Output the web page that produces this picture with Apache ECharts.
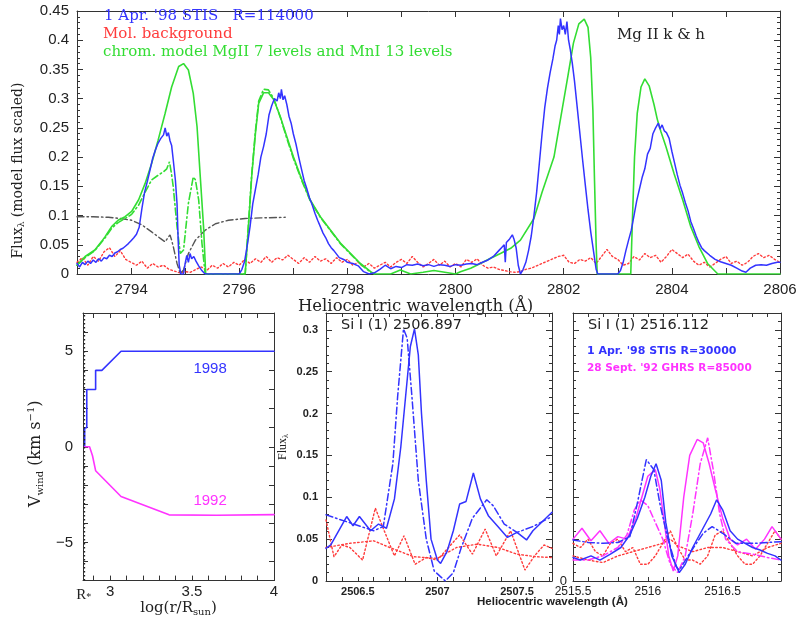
<!DOCTYPE html>
<html><head><meta charset="utf-8">
<script src="https://cdn.jsdelivr.net/npm/echarts@6/dist/echarts.min.js"></script>
<style>html,body{margin:0;padding:0;background:#fff}#c{width:801px;height:618px}</style>
</head><body><div id="c"></div>
<script>
// ---------- Top panel: Mg II k & h ----------
const mgObs = [[2793.00,0.018],[2793.05,0.012],[2793.10,0.02],[2793.15,0.016],[2793.20,0.022],[2793.25,0.018],[2793.30,0.024],[2793.35,0.02],[2793.40,0.026],[2793.45,0.022],[2793.50,0.028],[2793.55,0.026],[2793.60,0.032],[2793.65,0.03],[2793.70,0.036],[2793.75,0.038],[2793.80,0.042],[2793.85,0.044],[2793.90,0.048],[2793.95,0.052],[2794.00,0.057],[2794.05,0.062],[2794.10,0.068],[2794.15,0.08],[2794.20,0.112],[2794.25,0.14],[2794.30,0.158],[2794.35,0.178],[2794.40,0.198],[2794.45,0.212],[2794.50,0.224],[2794.55,0.232],[2794.60,0.238],[2794.63,0.25],[2794.66,0.236],[2794.69,0.242],[2794.72,0.228],[2794.75,0.22],[2794.78,0.195],[2794.82,0.16],[2794.85,0.12],[2794.87,0.06],[2794.89,0.015],[2794.92,0.0],[2794.97,0.0],[2795.00,0.018],[2795.03,0.032],[2795.06,0.02],[2795.09,0.035],[2795.12,0.026],[2795.16,0.03],[2795.20,0.022],[2795.25,0.014],[2795.30,0.007],[2795.36,0.001],[2795.40,0],[2796.00,0],[2796.05,0.008],[2796.10,0.022],[2796.15,0.05],[2796.20,0.081],[2796.25,0.12],[2796.30,0.145],[2796.35,0.17],[2796.40,0.2],[2796.45,0.218],[2796.50,0.24],[2796.55,0.272],[2796.60,0.288],[2796.65,0.3],[2796.70,0.296],[2796.73,0.31],[2796.76,0.3],[2796.78,0.316],[2796.81,0.298],[2796.84,0.305],[2796.88,0.29],[2796.92,0.27],[2796.96,0.258],[2797.00,0.24],[2797.05,0.222],[2797.10,0.2],[2797.15,0.18],[2797.20,0.16],[2797.25,0.146],[2797.30,0.13],[2797.35,0.118],[2797.40,0.104],[2797.45,0.092],[2797.50,0.081],[2797.55,0.07],[2797.60,0.062],[2797.65,0.052],[2797.70,0.045],[2797.75,0.04],[2797.80,0.034],[2797.85,0.028],[2797.90,0.026],[2797.95,0.024],[2798.00,0.02],[2798.10,0.018],[2798.20,0.014],[2798.30,0.004],[2798.40,0.0],[2798.50,0.002],[2798.60,0.008],[2798.70,0.015],[2798.80,0.009],[2798.90,0.013],[2799.00,0.011],[2799.10,0.016],[2799.20,0.015],[2799.30,0.017],[2799.40,0.014],[2799.50,0.016],[2799.60,0.013],[2799.70,0.016],[2799.80,0.015],[2799.90,0.013],[2800.00,0.016],[2800.10,0.015],[2800.20,0.017],[2800.30,0.018],[2800.40,0.016],[2800.50,0.02],[2800.60,0.024],[2800.70,0.03],[2800.80,0.04],[2800.85,0.045],[2800.90,0.05],[2800.92,0.02],[2800.94,0.054],[2801.00,0.06],[2801.05,0.067],[2801.08,0.06],[2801.12,0.045],[2801.16,0.015],[2801.20,0.0],[2801.25,0.008],[2801.30,0.02],[2801.35,0.04],[2801.40,0.065],[2801.45,0.1],[2801.50,0.14],[2801.55,0.19],[2801.60,0.24],[2801.65,0.285],[2801.70,0.318],[2801.75,0.345],[2801.80,0.368],[2801.84,0.39],[2801.87,0.4],[2801.90,0.425],[2801.92,0.41],[2801.94,0.437],[2801.97,0.418],[2802.00,0.425],[2802.03,0.41],[2802.06,0.432],[2802.09,0.4],[2802.12,0.385],[2802.16,0.36],[2802.20,0.33],[2802.25,0.285],[2802.30,0.24],[2802.35,0.195],[2802.40,0.152],[2802.45,0.11],[2802.50,0.072],[2802.55,0.04],[2802.60,0.008],[2802.63,0],[2803.00,0],[2803.05,0.006],[2803.10,0.02],[2803.15,0.04],[2803.20,0.058],[2803.25,0.075],[2803.30,0.1],[2803.35,0.125],[2803.40,0.145],[2803.45,0.165],[2803.50,0.18],[2803.55,0.205],[2803.60,0.215],[2803.65,0.24],[2803.70,0.25],[2803.75,0.258],[2803.78,0.248],[2803.82,0.255],[2803.86,0.245],[2803.90,0.242],[2803.95,0.232],[2804.00,0.21],[2804.05,0.19],[2804.10,0.17],[2804.15,0.152],[2804.20,0.138],[2804.25,0.122],[2804.30,0.108],[2804.35,0.09],[2804.40,0.078],[2804.45,0.065],[2804.50,0.054],[2804.55,0.045],[2804.60,0.04],[2804.70,0.032],[2804.80,0.025],[2804.90,0.021],[2805.00,0.018],[2805.10,0.015],[2805.20,0.01],[2805.30,0.005],[2805.37,0.003],[2805.45,0.01],[2805.55,0.015],[2805.65,0.016],[2805.75,0.015],[2805.85,0.018],[2805.95,0.02],[2806.00,0.02]];

const mgModel = [[2793.0,0.015],[2793.15,0.03],[2793.33,0.041],[2793.45,0.055],[2793.52,0.064],[2793.64,0.081],[2793.76,0.092],[2793.89,0.098],[2794.01,0.107],[2794.14,0.127],[2794.26,0.155],[2794.38,0.189],[2794.5,0.229],[2794.63,0.275],[2794.75,0.32],[2794.88,0.355],[2794.97,0.36],[2795.06,0.349],[2795.15,0.309],[2795.22,0.252],[2795.28,0.166],[2795.34,0.081],[2795.38,0],[2796.11,0],[2796.17,0.081],[2796.23,0.166],[2796.3,0.241],[2796.36,0.292],[2796.45,0.31],[2796.54,0.31],[2796.64,0.298],[2796.76,0.269],[2796.88,0.235],[2797.0,0.201],[2797.16,0.161],[2797.31,0.127],[2797.5,0.098],[2797.69,0.075],[2797.87,0.053],[2798.06,0.035],[2798.24,0.018],[2798.43,0.004],[2798.5,0],[2798.8,0],[2798.98,0.007],[2799.17,0],[2799.4,0.003],[2799.6,0.006],[2799.8,0.003],[2800.0,0],[2800.09,0.004],[2800.28,0.01],[2800.46,0.018],[2800.65,0.027],[2800.83,0.035],[2801.02,0.044],[2801.2,0.058],[2801.45,0.095],[2801.6,0.14],[2801.82,0.2],[2801.95,0.27],[2802.08,0.34],[2802.18,0.395],[2802.28,0.428],[2802.38,0.436],[2802.45,0.422],[2802.5,0.37],[2802.54,0.28],[2802.57,0.16],[2802.6,0.05],[2802.62,0],[2803.24,0],[2803.27,0.09],[2803.31,0.2],[2803.36,0.275],[2803.43,0.32],[2803.5,0.334],[2803.58,0.322],[2803.67,0.29],[2803.73,0.265],[2803.8,0.243],[2803.89,0.218],[2804.04,0.172],[2804.2,0.127],[2804.35,0.081],[2804.5,0.047],[2804.66,0.018],[2804.85,0],[2806.0,0]];

const mgModel2 = [[2793.0,0.015],[2793.15,0.028],[2793.33,0.04],[2793.52,0.062],[2793.64,0.078],[2793.76,0.088],[2793.89,0.095],[2794.01,0.102],[2794.14,0.118],[2794.26,0.14],[2794.38,0.161],[2794.5,0.169],[2794.6,0.175],[2794.66,0.18],[2794.71,0.192],[2794.75,0.17],[2794.78,0.149],[2794.85,0.081],[2794.91,0.035],[2794.97,0.041],[2795.06,0.121],[2795.15,0.166],[2795.19,0.161],[2795.25,0.127],[2795.31,0.053],[2795.37,0],[2796.11,0],[2796.17,0.085],[2796.23,0.17],[2796.3,0.245],[2796.36,0.296],[2796.45,0.316],[2796.54,0.315],[2796.64,0.3],[2796.76,0.268],[2796.88,0.232],[2797.0,0.198],[2797.16,0.159],[2797.31,0.126],[2797.5,0.097],[2797.69,0.074],[2797.87,0.052],[2798.06,0.034],[2798.24,0.017],[2798.43,0.003],[2798.5,0]];

const mgPhoto = [[2793.0,0.098],[2793.3,0.098],[2793.58,0.097],[2793.8,0.095],[2794.01,0.092],[2794.2,0.084],[2794.38,0.072],[2794.54,0.061],[2794.63,0.055],[2794.68,0.062],[2794.72,0.067],[2794.75,0.058],[2794.78,0.047],[2794.85,0.018],[2794.91,0.001],[2794.97,0.007],[2795.06,0.035],[2795.19,0.058],[2795.37,0.075],[2795.56,0.086],[2795.8,0.092],[2796.11,0.095],[2796.4,0.096],[2796.85,0.097]];

const mgMol = [[2793.0,0.02],[2793.1,0.028],[2793.2,0.015],[2793.3,0.03],[2793.4,0.022],[2793.5,0.038],[2793.6,0.045],[2793.7,0.03],[2793.8,0.04],[2793.9,0.025],[2794.0,0.02],[2794.1,0.015],[2794.2,0.022],[2794.3,0.01],[2794.4,0.018],[2794.5,0.012],[2794.6,0.015],[2794.7,0.008],[2794.8,0.005],[2794.9,0.002],[2795.0,0.004],[2795.1,0.003],[2795.2,0.008],[2795.3,0.012],[2795.4,0.006],[2795.5,0.015],[2795.6,0.01],[2795.7,0.018],[2795.8,0.012],[2795.9,0.02],[2796.0,0.015],[2796.1,0.025],[2796.2,0.018],[2796.3,0.026],[2796.4,0.02],[2796.5,0.03],[2796.6,0.02],[2796.7,0.028],[2796.8,0.024],[2796.9,0.032],[2797.0,0.025],[2797.1,0.018],[2797.2,0.028],[2797.3,0.02],[2797.4,0.03],[2797.5,0.022],[2797.6,0.026],[2797.7,0.018],[2797.8,0.028],[2797.9,0.02],[2798.0,0.025],[2798.1,0.015],[2798.2,0.02],[2798.3,0.012],[2798.4,0.018],[2798.5,0.01],[2798.6,0.015],[2798.7,0.02],[2798.8,0.012],[2798.9,0.02],[2799.0,0.025],[2799.1,0.018],[2799.2,0.03],[2799.3,0.02],[2799.4,0.012],[2799.5,0.018],[2799.6,0.025],[2799.7,0.015],[2799.8,0.022],[2799.9,0.012],[2800.0,0.018],[2800.1,0.012],[2800.2,0.025],[2800.3,0.02],[2800.4,0.026],[2800.5,0.015],[2800.6,0.01],[2800.7,0.012],[2800.8,0.008],[2800.9,0.006],[2801.0,0.004],[2801.1,0.003],[2801.2,0.004],[2801.3,0.008],[2801.4,0.01],[2801.5,0.014],[2801.6,0.018],[2801.7,0.022],[2801.8,0.026],[2801.9,0.03],[2802.0,0.032],[2802.1,0.02],[2802.2,0.018],[2802.3,0.025],[2802.4,0.022],[2802.5,0.028],[2802.6,0.018],[2802.7,0.03],[2802.8,0.042],[2802.9,0.03],[2803.0,0.025],[2803.1,0.015],[2803.2,0.018],[2803.3,0.03],[2803.4,0.024],[2803.5,0.035],[2803.6,0.028],[2803.7,0.032],[2803.8,0.02],[2803.9,0.03],[2804.0,0.042],[2804.1,0.035],[2804.2,0.028],[2804.3,0.034],[2804.4,0.022],[2804.5,0.015],[2804.6,0.02],[2804.7,0.012],[2804.8,0.018],[2804.9,0.025],[2805.0,0.03],[2805.1,0.018],[2805.2,0.022],[2805.3,0.015],[2805.4,0.02],[2805.5,0.03],[2805.6,0.035],[2805.7,0.028],[2805.8,0.032],[2805.9,0.025],[2806.0,0.02]];

// ---------- Bottom-left: wind velocity ----------
const v1998 = [[2.845,0],[2.845,1],[2.858,1],[2.858,3],[2.912,3],[2.912,4],[2.95,4],[3.067,5],[4.0,5]];
const v1992 = [[2.845,0],[2.875,0],[2.893,-0.47],[2.912,-1.25],[3.067,-2.6],[3.36,-3.56],[3.65,-3.58],[4.0,-3.55]];
const rStar = 2.843;
const logTicks = [2.9,3.0,3.1,3.2,3.3,3.4,3.5,3.6,3.7,3.8,3.9,4.0];
const logLabels = [3,3.5,4];

// ---------- Bottom-middle: Si I 2506.897 ----------
const si1Obs = [[2506.3,0.039],[2506.33,0.043],[2506.43,0.077],[2506.47,0.066],[2506.51,0.077],[2506.58,0.06],[2506.63,0.068],[2506.68,0.063],[2506.73,0.098],[2506.77,0.16],[2506.8,0.22],[2506.83,0.28],[2506.856,0.301],[2506.88,0.27],[2506.9,0.2],[2506.93,0.12],[2506.96,0.05],[2507.0,0.025],[2507.02,0.021],[2507.06,0.035],[2507.1,0.06],[2507.14,0.092],[2507.18,0.095],[2507.226,0.129],[2507.27,0.098],[2507.32,0.078],[2507.38,0.065],[2507.44,0.052],[2507.5,0.058],[2507.56,0.049],[2507.6,0.06],[2507.72,0.082]];
const si1Model = [[2506.3,0.079],[2506.6,0.06],[2506.66,0.065],[2506.72,0.14],[2506.75,0.22],[2506.787,0.301],[2506.81,0.29],[2506.84,0.22],[2506.88,0.12],[2506.93,0.05],[2506.98,0.012],[2507.05,0.0],[2507.1,0.01],[2507.15,0.04],[2507.22,0.075],[2507.31,0.097],[2507.35,0.09],[2507.42,0.068],[2507.5,0.058],[2507.6,0.065],[2507.72,0.077]];
const si1MolA = [[2506.3,0.073],[2506.35,0.029],[2506.4,0.043],[2506.45,0.04],[2506.53,0.025],[2506.61,0.087],[2506.67,0.058],[2506.73,0.03],[2506.79,0.054],[2506.86,0.02],[2506.93,0.028],[2507.0,0.025],[2507.07,0.04],[2507.14,0.055],[2507.22,0.032],[2507.3,0.062],[2507.37,0.03],[2507.46,0.06],[2507.55,0.013],[2507.61,0.03],[2507.67,0.043],[2507.72,0.039]];
const si1MolB = [[2506.3,0.04],[2506.45,0.045],[2506.6,0.048],[2506.7,0.04],[2506.85,0.029],[2507.0,0.027],[2507.12,0.04],[2507.25,0.044],[2507.38,0.04],[2507.5,0.032],[2507.62,0.029],[2507.72,0.028]];

// ---------- Bottom-right: Si I 2516.112 ----------
const si2Obs98 = [[2515.5,0.028],[2515.55,0.025],[2515.62,0.03],[2515.68,0.025],[2515.75,0.032],[2515.82,0.04],[2515.88,0.055],[2515.93,0.075],[2515.98,0.1],[2516.02,0.125],[2516.055,0.14],[2516.09,0.12],[2516.12,0.07],[2516.16,0.03],[2516.21,0.01],[2516.25,0.02],[2516.3,0.04],[2516.36,0.06],[2516.42,0.08],[2516.46,0.097],[2516.5,0.085],[2516.55,0.06],[2516.6,0.05],[2516.65,0.045],[2516.7,0.04],[2516.75,0.037],[2516.8,0.033],[2516.85,0.03],[2516.89,0.025]];
const si2Mod98 = [[2515.5,0.049],[2515.6,0.046],[2515.7,0.045],[2515.8,0.046],[2515.88,0.053],[2515.93,0.093],[2515.99,0.145],[2516.04,0.133],[2516.08,0.093],[2516.13,0.053],[2516.19,0.017],[2516.21,0.013],[2516.28,0.033],[2516.37,0.057],[2516.43,0.065],[2516.5,0.057],[2516.59,0.045],[2516.72,0.045],[2516.89,0.047]];
const si2Obs92 = [[2515.5,0.05],[2515.56,0.063],[2515.62,0.048],[2515.68,0.06],[2515.74,0.045],[2515.8,0.053],[2515.86,0.05],[2515.92,0.075],[2515.96,0.1],[2516.0,0.125],[2516.05,0.133],[2516.08,0.11],[2516.11,0.07],[2516.14,0.03],[2516.17,0.012],[2516.2,0.03],[2516.24,0.1],[2516.28,0.15],[2516.33,0.169],[2516.37,0.165],[2516.41,0.14],[2516.45,0.11],[2516.5,0.075],[2516.55,0.05],[2516.6,0.043],[2516.66,0.05],[2516.72,0.038],[2516.78,0.05],[2516.83,0.065],[2516.89,0.05]];
const si2Mod92 = [[2515.5,0.025],[2515.6,0.025],[2515.7,0.03],[2515.8,0.04],[2515.86,0.055],[2515.91,0.085],[2515.95,0.097],[2516.0,0.09],[2516.05,0.07],[2516.1,0.05],[2516.15,0.02],[2516.2,0.01],[2516.25,0.03],[2516.3,0.08],[2516.35,0.14],[2516.4,0.171],[2516.44,0.13],[2516.48,0.08],[2516.52,0.05],[2516.6,0.035],[2516.7,0.032],[2516.8,0.028],[2516.89,0.025]];
const si2MolA = [[2515.5,0.045],[2515.55,0.04],[2515.6,0.05],[2515.65,0.035],[2515.7,0.03],[2515.75,0.045],[2515.8,0.05],[2515.85,0.035],[2515.9,0.04],[2515.95,0.02],[2516.0,0.02],[2516.05,0.03],[2516.1,0.045],[2516.15,0.06],[2516.2,0.04],[2516.25,0.025],[2516.3,0.025],[2516.35,0.02],[2516.4,0.03],[2516.45,0.055],[2516.5,0.06],[2516.55,0.045],[2516.6,0.03],[2516.65,0.02],[2516.7,0.02],[2516.75,0.03],[2516.8,0.045],[2516.85,0.06],[2516.89,0.05]];
const si2MolB = [[2515.5,0.03],[2515.6,0.025],[2515.7,0.022],[2515.8,0.03],[2515.9,0.035],[2516.0,0.04],[2516.1,0.045],[2516.15,0.05],[2516.2,0.042],[2516.3,0.035],[2516.4,0.04],[2516.5,0.04],[2516.6,0.035],[2516.7,0.03],[2516.8,0.04],[2516.89,0.045]];

// ---------- styling ----------
const BLUE='#3333ff', GREEN='#33dd33', RED='#ff3b3b', MAG='#ff33ff', GREY='#555555', AX='#333';
const DOT=[1.6,2.4], DASHDOT=[7,3,1.5,3];
const SANS='Liberation Sans', SERIF='Liberation Serif', DSERIF='DejaVu Serif', DSANS='DejaVu Sans';

function near(v, step){ const r=v/step; return Math.abs(r-Math.round(r))<1e-6; }

function axisBase(extra){
  return Object.assign({
    type:'value', splitLine:{show:false},
    axisLine:{show:true, onZero:false, lineStyle:{color:AX, width:1}},
    axisTick:{show:true, inside:true, length:6, lineStyle:{color:AX}},
    minorTick:{show:false},
  }, extra);
}
function mirror(gi, pos, min, max, tick, minor){
  const o = axisBase({gridIndex:gi, position:pos, min:min, max:max, axisLabel:{show:false}});
  if (tick.customValues) { o.axisTick = Object.assign({}, o.axisTick, tick); }
  else { o.interval = tick.interval; o.axisTick.length = tick.length || 6; }
  if (minor) o.minorTick = {show:true, splitNumber:minor, length:3, lineStyle:{color:AX}};
  return o;
}

const chart = echarts.init(document.getElementById('c'), null, {renderer:'canvas'});

const xAxis = [
  axisBase({gridIndex:0, position:'bottom', min:2793, max:2806, interval:1,
    axisLabel:{fontFamily:SANS, fontSize:15, color:'#222', margin:8,
      formatter:v=> near(v,2)? String(Math.round(v)) : ''},
    name:'{a|Heliocentric wavelength (Å)}{g|}', nameLocation:'middle', nameGap:21,
    nameTextStyle:{rich:{a:{fontFamily:DSERIF, fontSize:16.5, color:'#222'}, g:{width:26}}}}),
  mirror(0,'top',2793,2806,{interval:1}),
  axisBase({gridIndex:1, position:'bottom', min:2.835, max:4,
    axisTick:{show:true, inside:true, length:5, customValues:logTicks, lineStyle:{color:AX}},
    axisLabel:{customValues:logLabels, fontFamily:SANS, fontSize:15, color:'#222', margin:4},
    name:'{a|log(r/R}{s|sun}{a|)}', nameLocation:'middle', nameGap:12,
    nameTextStyle:{rich:{a:{fontFamily:DSERIF, fontSize:15, color:'#222'}, s:{fontFamily:DSERIF, fontSize:10, color:'#222', padding:[8,0,0,0]}}}}),
  mirror(1,'top',2.835,4,{customValues:logTicks, length:5}),
  axisBase({gridIndex:2, position:'bottom', min:2506.3, max:2507.72, interval:0.1,
    axisTick:{show:true, inside:true, length:4, lineStyle:{color:AX}},
    axisLabel:{fontFamily:SANS, fontSize:11, fontWeight:'bold', color:'#222', margin:5,
      formatter:v=> near(v,0.5)? (near(v,1)? String(Math.round(v)) : v.toFixed(1)) : ''}}),
  mirror(2,'top',2506.3,2507.72,{interval:0.1, length:4}),
  axisBase({gridIndex:3, position:'bottom', min:2515.5, max:2516.89, interval:0.1,
    axisTick:{show:true, inside:true, length:4, lineStyle:{color:AX}},
    axisLabel:{fontFamily:SANS, fontSize:12, color:'#222', margin:5,
      formatter:v=> near(v,0.5)? (near(v,1)? String(Math.round(v)) : v.toFixed(1)) : ''}}),
  mirror(3,'top',2515.5,2516.89,{interval:0.1, length:4}),
];

const yAxis = [
  axisBase({gridIndex:0, position:'left', min:0, max:0.45, interval:0.05,
    minorTick:{show:true, splitNumber:5, length:3, lineStyle:{color:AX}},
    axisLabel:{fontFamily:SANS, fontSize:15, color:'#222', margin:8},
    name:'{a|Flux}{s|λ}{a| (model flux scaled)}{g|}', nameLocation:'middle', nameGap:51,
    nameTextStyle:{rich:{a:{fontFamily:DSERIF, fontSize:14, color:'#222'}, s:{fontFamily:DSERIF, fontSize:9, color:'#222', padding:[7,0,0,0]}, g:{width:56}}}}),
  mirror(0,'right',0,0.45,{interval:0.05}, 5),
  axisBase({gridIndex:1, position:'left', min:-7, max:7, interval:1,
    axisTick:{show:true, inside:true, length:5, lineStyle:{color:AX}},
    axisLabel:{fontFamily:SANS, fontSize:15, color:'#222', margin:10,
      formatter:v=> near(v,5)? String(Math.round(v)).replace('-', '−') : ''},
    name:'{a|V}{s|wind}{a| (km s}{p|−1}{a|)}{g|}', nameLocation:'middle', nameGap:38,
    nameTextStyle:{rich:{a:{fontFamily:DSERIF, fontSize:16, color:'#222'}, s:{fontFamily:DSERIF, fontSize:10, color:'#222', padding:[9,0,0,0]}, p:{fontFamily:DSERIF, fontSize:10, color:'#222', padding:[0,0,8,0]}, g:{width:14}}}}),
  mirror(1,'right',-7,7,{interval:1, length:5}),
  axisBase({gridIndex:2, position:'left', min:0, max:0.32, interval:0.05,
    minorTick:{show:true, splitNumber:5, length:3, lineStyle:{color:AX}},
    axisLabel:{fontFamily:SANS, fontSize:11, fontWeight:'bold', color:'#222', margin:8, showMaxLabel:false},
    name:'{a|Flux}{s|λ}', nameLocation:'middle', nameGap:36,
    nameTextStyle:{rich:{a:{fontFamily:SERIF, fontSize:12, color:'#222'}, s:{fontFamily:SERIF, fontSize:8, color:'#222', padding:[6,0,0,0]}}}}),
  mirror(2,'right',0,0.32,{interval:0.05}, 5),
  axisBase({gridIndex:3, position:'left', min:0, max:0.32, interval:0.05,
    minorTick:{show:true, splitNumber:5, length:3, lineStyle:{color:AX}},
    axisLabel:{fontFamily:SANS, fontSize:13, color:'#222', margin:6, showMaxLabel:false,
      formatter:v=> v===0? '0' : ''}}),
  mirror(3,'right',0,0.32,{interval:0.05}, 5),
];

function line(data, xi, yi, color, type, width){
  return {type:'line', data:data, xAxisIndex:xi, yAxisIndex:yi, showSymbol:false, symbol:'none',
    animation:false, silent:true, lineStyle:{color:color, width:width||1.5, type:type||'solid', cap:'round'}};
}

const series = [
  line(mgMol,0,0,RED,DOT,1.4),
  line(mgPhoto,0,0,GREY,DASHDOT,1.4),
  line(mgModel2,0,0,GREEN,DASHDOT,1.6),
  line(mgModel,0,0,GREEN,'solid',1.6),
  line(mgObs,0,0,BLUE,'solid',1.5),
  Object.assign(line(v1998,2,2,BLUE,'solid',1.6), {
    markLine:{silent:true, symbol:'none', animation:false,
      lineStyle:{color:'#222', type:[1.5,2.5], width:1.3},
      label:{show:true, position:'start', distance:6, formatter:'{r|R}{s|*}',
        rich:{r:{fontFamily:SERIF, fontSize:15, color:'#222'}, s:{fontFamily:SERIF, fontSize:10, color:'#222', padding:[6,0,0,0]}}},
      data:[{xAxis:rStar}]},
    markPoint:{silent:true, animation:false, symbol:'circle', symbolSize:0,
      label:{show:true, position:'inside', formatter:'1998', fontFamily:SANS, fontSize:15, color:BLUE},
      data:[{coord:[3.61,4.1]}]}}),
  Object.assign(line(v1992,2,2,MAG,'solid',1.6), {
    markPoint:{silent:true, animation:false, symbol:'circle', symbolSize:0,
      label:{show:true, position:'inside', formatter:'1992', fontFamily:SANS, fontSize:15, color:MAG},
      data:[{coord:[3.61,-2.83]}]}}),
  line(si1MolA,4,4,RED,DOT,1.4),
  line(si1MolB,4,4,RED,DOT,1.4),
  line(si1Model,4,4,BLUE,DASHDOT,1.5),
  line(si1Obs,4,4,BLUE,'solid',1.5),
  line(si2MolA,6,6,RED,DOT,1.4),
  line(si2MolB,6,6,RED,DOT,1.4),
  line(si2Mod92,6,6,MAG,DASHDOT,1.5),
  line(si2Obs92,6,6,MAG,'solid',1.5),
  line(si2Mod98,6,6,BLUE,DASHDOT,1.5),
  line(si2Obs98,6,6,BLUE,'solid',1.5),
];

function txt(text, left, top, color, family, size, weight){
  return {text:text, left:left, top:top, padding:0,
    textStyle:{color:color, fontFamily:family, fontSize:size, fontWeight:weight||'normal'}};
}

chart.setOption({
  backgroundColor:'#fff',
  animation:false,
  grid:[
    {left:77, top:11, width:703, height:263},
    {left:83, top:313, width:191, height:270},
    {left:326, top:313, width:226, height:268},
    {left:573, top:313, width:208, height:268},
  ],
  title:[
    txt("1 Apr. '98 STIS   R=114000",104,9,BLUE,DSERIF,15),
    txt('Mol. background',103,27,RED,DSERIF,15),
    txt('chrom. model MgII 7 levels and MnI 13 levels',103,45,GREEN,DSERIF,15),
    txt('Mg II k & h',617,28,'#222',DSERIF,15),
    txt('Si I (1) 2506.897',341,318,'#222',DSANS,14.5),
    txt('Si I (1) 2516.112',588,318,'#222',DSANS,14.5),
    txt("1 Apr. '98 STIS R=30000",587,346,BLUE,DSANS,11,'bold'),
    txt("28 Sept. '92 GHRS R=85000",587,363,MAG,DSANS,10.5,'bold'),
    txt('Heliocentric wavelength (Å)',477,596,'#222',SANS,11.5,'bold'),
  ],
  xAxis:xAxis,
  yAxis:yAxis,
  series:series,
});
</script></body></html>
